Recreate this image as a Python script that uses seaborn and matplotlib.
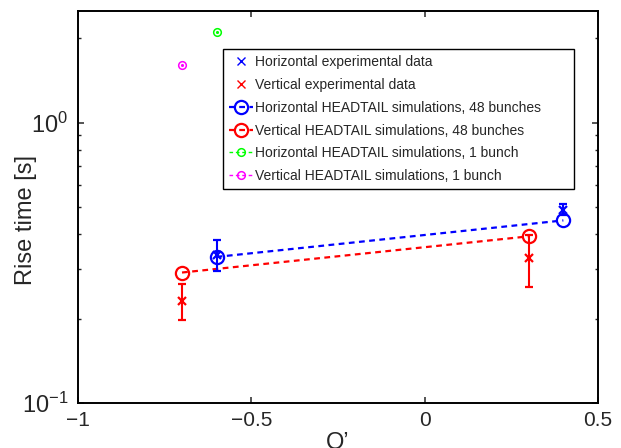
import matplotlib
matplotlib.use("Agg")
import matplotlib.pyplot as plt
from matplotlib.lines import Line2D
import numpy as np
import pandas as pd
import seaborn as sns

# Chromaticity Q' values and rise times [s]
exp_h_q = [-0.6, 0.4]
exp_h_rise = [0.336, 0.489]
exp_h_err_lo = [0.040, 0.020]
exp_h_err_hi = [0.044, 0.025]

exp_v_q = [-0.7, 0.3]
exp_v_rise = [0.231, 0.330]
exp_v_err_lo = [0.034, 0.071]
exp_v_err_hi = [0.034, 0.066]

sim48_h_q = [-0.6, 0.4]
sim48_h_rise = [0.332, 0.448]
sim48_v_q = [-0.7, 0.3]
sim48_v_rise = [0.292, 0.393]

sim1_h_q = [-0.6]
sim1_h_rise = [2.11]
sim1_v_q = [-0.7]
sim1_v_rise = [1.60]

x_ticks = [-1, -0.5, 0, 0.5]
x_tick_labels = ["\u22121", "\u22120.5", "0", "0.5"]

legend_labels = [
    "Horizontal experimental data",
    "Vertical experimental data",
    "Horizontal HEADTAIL simulations, 48 bunches",
    "Vertical HEADTAIL simulations, 48 bunches",
    "Horizontal HEADTAIL simulations, 1 bunch",
    "Vertical HEADTAIL simulations, 1 bunch",
]

sns.set_style("ticks")
plt.rcParams["font.family"] = ["Liberation Sans", "DejaVu Sans"]
plt.rcParams["lines.dashed_pattern"] = [2.6, 2.0]
plt.rcParams["xtick.direction"] = "in"
plt.rcParams["ytick.direction"] = "in"

fig = plt.figure(figsize=(6.21, 4.48), dpi=100)
ax = fig.add_axes([0.1256, 0.1004, 0.8374, 0.875])

blue = "#0000ff"
red = "#ff0000"
green = "#00ff00"
magenta = "#ff00ff"

# simulations, 48 bunches
sim48 = pd.DataFrame({"q": sim48_h_q + sim48_v_q,
                      "rise": sim48_h_rise + sim48_v_rise,
                      "plane": ["H"] * 2 + ["V"] * 2})
for plane, col in [("H", blue), ("V", red)]:
    sub = sim48[sim48["plane"] == plane]
    sns.lineplot(data=sub, x="q", y="rise", ax=ax, color=col, linestyle="--",
                 linewidth=1.6, marker="o", markersize=9.5, markerfacecolor="none",
                 markeredgecolor=col, markeredgewidth=1.6, estimator=None,
                 sort=False, legend=False, zorder=3)

# simulations, 1 bunch
for qs, rs, col in [(sim1_h_q, sim1_h_rise, green), (sim1_v_q, sim1_v_rise, magenta)]:
    sns.lineplot(x=qs, y=rs, ax=ax, color=col, linestyle="--", linewidth=1,
                 marker="o", markersize=5.5, markerfacecolor="none",
                 markeredgecolor=col, markeredgewidth=1.1, estimator=None,
                 legend=False, zorder=3)
    ax.plot(qs, rs, linestyle="none", marker=".", markersize=2.5, color=col, zorder=4)

# experimental data with error bars
ax.errorbar(exp_h_q, exp_h_rise, yerr=[exp_h_err_lo, exp_h_err_hi], fmt="x",
            color=blue, ecolor=blue, elinewidth=1.5, capsize=2.6, capthick=1.5,
            markersize=6, markeredgewidth=1.6, zorder=5)
ax.errorbar(exp_v_q, exp_v_rise, yerr=[exp_v_err_lo, exp_v_err_hi], fmt="x",
            color=red, ecolor=red, elinewidth=1.5, capsize=2.6, capthick=1.5,
            markersize=6, markeredgewidth=1.6, zorder=5)

ax.set_yscale("log")
ax.set_xlim(-1, 0.5)
ax.set_ylim(0.1, 2.5)
ax.set_xticks(x_ticks)
ax.set_xticklabels(x_tick_labels)

for side in ["top", "right", "left", "bottom"]:
    ax.spines[side].set_visible(True)
    ax.spines[side].set_linewidth(1.4)
    ax.spines[side].set_color("black")

ax.tick_params(which="major", direction="in", length=4, width=1.1,
               top=True, right=True)
ax.tick_params(axis="x", which="major", labelsize=15, pad=6)
ax.tick_params(axis="y", which="major", labelsize=17, pad=7)
ax.tick_params(which="minor", direction="in", length=2.5, width=1.0,
               top=True, right=True)
ax.tick_params(axis="x", which="minor", top=False, bottom=False)

ax.set_xlabel("Q\u2019", fontsize=17, labelpad=1)
ax.set_ylabel("Rise time [s]", fontsize=17)
ax.yaxis.set_label_coords(-0.079, 0.468)

handles = [
    Line2D([], [], linestyle="none", marker="x", color=blue, markersize=6, markeredgewidth=1.0),
    Line2D([], [], linestyle="none", marker="x", color=red, markersize=6, markeredgewidth=1.0),
    Line2D([], [], linestyle="--", linewidth=1.6, marker="o", color=blue, markersize=9.5,
           markerfacecolor="none", markeredgewidth=1.6),
    Line2D([], [], linestyle="--", linewidth=1.6, marker="o", color=red, markersize=9.5,
           markerfacecolor="none", markeredgewidth=1.6),
    Line2D([], [], linestyle="--", linewidth=1, marker="o", color=green, markersize=5.5,
           markerfacecolor="none", markeredgewidth=1.1),
    Line2D([], [], linestyle="--", linewidth=1, marker="o", color=magenta, markersize=5.5,
           markerfacecolor="none", markeredgewidth=1.1),
]
leg = ax.legend(handles, legend_labels, loc="upper left",
                bbox_to_anchor=(0.278, 0.5, 0.6756, 0.403), mode="expand",
                fontsize=10, frameon=True, fancybox=False, edgecolor="black",
                framealpha=1, handlelength=1.75, handletextpad=0.15, borderpad=0.45,
                labelspacing=0.63, borderaxespad=0)
leg.get_frame().set_linewidth(1.0)

fig.savefig("out.png", dpi=100)
